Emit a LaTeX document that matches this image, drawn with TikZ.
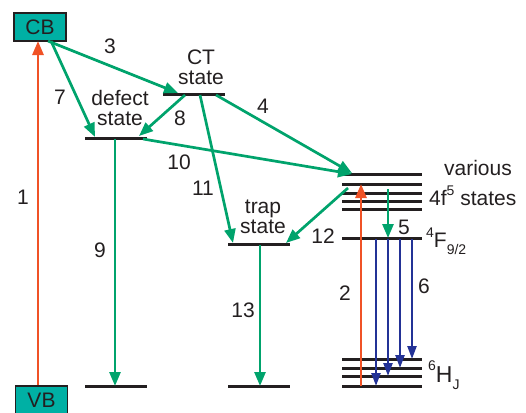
\documentclass[tikz,border=0pt]{standalone}
\usepackage{fontspec}
\setmainfont{Liberation Sans}
\usetikzlibrary{arrows.meta}
\definecolor{gr}{RGB}{0,163,108}
\definecolor{rd}{RGB}{240,82,38}
\definecolor{bl}{RGB}{35,50,150}
\definecolor{tl}{RGB}{0,176,164}
\definecolor{tx}{RGB}{35,31,32}
\newcommand{\sups}[1]{\raisebox{0.5em}{\fontsize{14}{14}\selectfont #1}}
\newcommand{\subs}[1]{\raisebox{-0.3em}{\fontsize{14}{14}\selectfont #1}}
\begin{document}
\begin{tikzpicture}[x=1pt,y=-1pt,
  lvl/.style={line width=3pt, tx},
  garr/.style={gr, line width=2.7pt, -{Triangle[length=14pt,width=11pt]}},
  rarr/.style={rd, line width=2.7pt, -{Triangle[length=14pt,width=11pt]}},
  barr/.style={bl, line width=2.3pt, -{Triangle[length=13pt,width=9pt]}},
  band/.style={draw=tx, fill=tl, line width=1.8pt, minimum width=52pt, minimum height=28pt, inner sep=0pt, font=\fontsize{21}{23}\selectfont, text=tx},
  lab/.style={font=\fontsize{21}{22}\selectfont, inner sep=0pt, text=tx, align=center}
]
\useasboundingbox (0,0) rectangle (526,412);

% bands
\node[band] (CB) at (40,27) {CB};
\node[band, anchor=north] (VB) at (41.5,385) {VB};

% levels
\draw[lvl] (85,138) coordinate (defL) -- (147,138) coordinate (defR);
\draw[lvl] (85,386) coordinate (gdL) -- (147,386) coordinate (gdR);
\draw[lvl] (163,94) coordinate (ctL) -- (225,94) coordinate (ctR);
\draw[lvl] (228,244) coordinate (trL) -- (290,244) coordinate (trR);
\draw[lvl] (228,386) coordinate (gtL) -- (290,386) coordinate (gtR);
\foreach \y [count=\i] in {174,184,193,201,209}
  \draw[lvl] (342,\y) coordinate (fL\i) -- (422,\y) coordinate (fR\i);
\draw[lvl] (342,238) coordinate (FL) -- (422,238) coordinate (FR);
\foreach \y [count=\i] in {359,368,376,386}
  \draw[lvl] (342,\y) coordinate (hL\i) -- (422,\y) coordinate (hR\i);

% arrow endpoints
\coordinate (cb3) at (48,41);
\coordinate (cb7) at (51,41);
\coordinate (ct3) at (178,93);
\coordinate (df7) at (95,137);
\coordinate (ct8) at (185,95);
\coordinate (df8) at (139,136);
\coordinate (ct11) at (200,95);
\coordinate (tr11) at (233,243);
\coordinate (ct4) at (216,95);
\coordinate (f4) at (352,173);
\coordinate (df10) at (143,139);
\coordinate (f10) at (352,174);
\coordinate (f12) at (348,188);
\coordinate (tr12) at (286,243);
\coordinate (f5) at (388,189);
\coordinate (F5) at (388,238);
\coordinate (df9) at (115,139);
\coordinate (gd9) at (115,386);
\coordinate (tr13) at (260,245);
\coordinate (gt13) at (260,386);
\coordinate (vb1) at (38,385);
\coordinate (cb1) at (38,41);
\coordinate (h2) at (361,386);
\coordinate (f2) at (361,184);

% green arrows
\draw[garr] (cb3) -- (ct3);
\draw[garr] (cb7) -- (df7);
\draw[garr] (ct8) -- (df8);
\draw[garr] (ct11) -- (tr11);
\draw[garr] (ct4) -- (f4);
\draw[garr] (df10) -- (f10);
\draw[garr] (f12) -- (tr12);
\draw[garr] (f5) -- (F5);
\draw[garr] (df9) -- (gd9);
\draw[garr] (tr13) -- (gt13);

% red arrows
\draw[rarr] (vb1) -- (cb1);
\draw[rarr] (h2) -- (f2);

% blue arrows
\draw[barr] (376,239) coordinate (b1) -- (376,386) coordinate (e1);
\draw[barr] (388,239) coordinate (b2) -- (388,376) coordinate (e2);
\draw[barr] (400,239) coordinate (b3) -- (400,368) coordinate (e3);
\draw[barr] (412,239) coordinate (b4) -- (412,359) coordinate (e4);

% labels
\node[lab] (l1) at (23,197) {1};
\node[lab] (l3) at (110,46) {3};
\node[lab] (l7) at (60,97) {7};
\node[lab] (ldef) at (120,108) {defect\\[-2pt]state};
\node[lab] (lct) at (201,67) {CT\\[-2pt]state};
\node[lab] (l8) at (180,118) {8};
\node[lab] (l4) at (263,106) {4};
\node[lab] (l10) at (179,162) {10};
\node[lab] (l11) at (203,188) {11};
\node[lab] (l9) at (100,250) {9};
\node[lab] (ltrap) at (263,217) {trap\\[-2pt]state};
\node[lab] (l12) at (323,236) {12};
\node[lab] (l2) at (345,293) {2};
\node[lab] (l13) at (243,310) {13};
\node[lab] (l5) at (404,227) {5};
\node[lab] (l6) at (424,286) {6};
\node[lab] (lvar) at (478,168) {various};
\node[lab, anchor=west] (l4f) at (429,196) {4f\sups{5} states};
\node[lab, anchor=west] (l4F) at (426,241) {\sups{4}F\subs{9/2}};
\node[lab, anchor=west, font=\fontsize{23}{24}\selectfont] (l6H) at (428,375) {\sups{6}H\subs{J}};
\end{tikzpicture}
\end{document}
